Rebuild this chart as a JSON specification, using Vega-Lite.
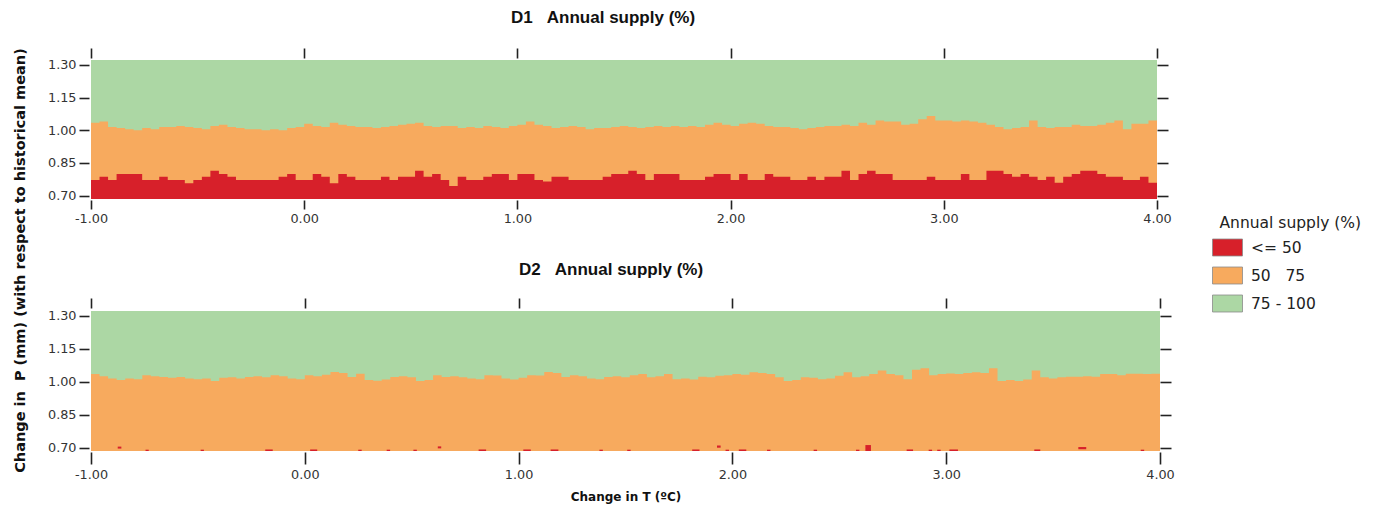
{
"$schema": "https://vega.github.io/schema/vega-lite/v6.json",
"background": "white",
"padding": {"left": 12, "top": 9, "right": 10, "bottom": 5},
"bounds": "flush",
"spacing": 112,
"config": {
  "locale": {"number": {"decimal": ".", "thousands": ",", "grouping": [3], "currency": ["$", ""], "minus": "-"}},
  "view": {"stroke": null},
  "font": "DejaVu Sans",
  "axis": {"grid": false, "domain": false, "labelFlush": false, "tickColor": "#222", "tickWidth": 1.6, "labelFont": "DejaVu Sans", "labelFontSize": 12.8, "labelColor": "#333", "titleColor": "#111", "titleFont": "DejaVu Sans"}
},
"datasets": {
"d1": [
{"x":-1,"r":0.772,"o":1.035},{"x":-0.96,"r":0.787,"o":1.04},{"x":-0.92,"r":0.772,"o":1.015},{"x":-0.88,"r":0.8,"o":1.01},{"x":-0.84,"r":0.8,"o":1.005},{"x":-0.8,"r":0.8,"o":1.0},{"x":-0.76,"r":0.772,"o":1.01},{"x":-0.72,"r":0.772,"o":1.005},{"x":-0.68,"r":0.787,"o":1.015},{"x":-0.64,"r":0.772,"o":1.015},{"x":-0.6,"r":0.772,"o":1.02},{"x":-0.56,"r":0.757,"o":1.015},{"x":-0.52,"r":0.772,"o":1.01},{"x":-0.48,"r":0.787,"o":1.005},{"x":-0.44,"r":0.815,"o":1.02},{"x":-0.4,"r":0.8,"o":1.025},{"x":-0.36,"r":0.787,"o":1.015},{"x":-0.32,"r":0.772,"o":1.01},{"x":-0.28,"r":0.772,"o":1.005},{"x":-0.24,"r":0.772,"o":1.005},{"x":-0.2,"r":0.772,"o":1.0},{"x":-0.16,"r":0.772,"o":1.005},{"x":-0.12,"r":0.787,"o":1.0},{"x":-0.08,"r":0.8,"o":1.01},{"x":-0.04,"r":0.772,"o":1.015},{"x":0,"r":0.772,"o":1.03},{"x":0.04,"r":0.8,"o":1.02},{"x":0.08,"r":0.787,"o":1.015},{"x":0.12,"r":0.757,"o":1.035},{"x":0.16,"r":0.8,"o":1.025},{"x":0.2,"r":0.787,"o":1.02},{"x":0.24,"r":0.772,"o":1.015},{"x":0.28,"r":0.772,"o":1.015},{"x":0.32,"r":0.772,"o":1.01},{"x":0.36,"r":0.787,"o":1.015},{"x":0.4,"r":0.772,"o":1.02},{"x":0.44,"r":0.787,"o":1.025},{"x":0.48,"r":0.787,"o":1.03},{"x":0.52,"r":0.815,"o":1.035},{"x":0.56,"r":0.787,"o":1.02},{"x":0.6,"r":0.8,"o":1.015},{"x":0.64,"r":0.772,"o":1.02},{"x":0.68,"r":0.745,"o":1.02},{"x":0.72,"r":0.787,"o":1.01},{"x":0.76,"r":0.772,"o":1.015},{"x":0.8,"r":0.772,"o":1.01},{"x":0.84,"r":0.787,"o":1.02},{"x":0.88,"r":0.8,"o":1.015},{"x":0.92,"r":0.8,"o":1.01},{"x":0.96,"r":0.772,"o":1.02},{"x":1,"r":0.8,"o":1.025},{"x":1.04,"r":0.8,"o":1.04},{"x":1.08,"r":0.772,"o":1.025},{"x":1.12,"r":0.765,"o":1.02},{"x":1.16,"r":0.787,"o":1.01},{"x":1.2,"r":0.787,"o":1.015},{"x":1.24,"r":0.772,"o":1.02},{"x":1.28,"r":0.772,"o":1.015},{"x":1.32,"r":0.772,"o":1.005},{"x":1.36,"r":0.772,"o":1.01},{"x":1.4,"r":0.787,"o":1.01},{"x":1.44,"r":0.8,"o":1.015},{"x":1.48,"r":0.8,"o":1.02},{"x":1.52,"r":0.815,"o":1.015},{"x":1.56,"r":0.8,"o":1.01},{"x":1.6,"r":0.772,"o":1.015},{"x":1.64,"r":0.8,"o":1.02},{"x":1.68,"r":0.8,"o":1.015},{"x":1.72,"r":0.8,"o":1.02},{"x":1.76,"r":0.772,"o":1.015},{"x":1.8,"r":0.772,"o":1.02},{"x":1.84,"r":0.772,"o":1.015},{"x":1.88,"r":0.787,"o":1.025},{"x":1.92,"r":0.8,"o":1.035},{"x":1.96,"r":0.8,"o":1.025},{"x":2,"r":0.772,"o":1.02},{"x":2.04,"r":0.8,"o":1.03},{"x":2.08,"r":0.772,"o":1.035},{"x":2.12,"r":0.772,"o":1.03},{"x":2.16,"r":0.8,"o":1.02},{"x":2.2,"r":0.787,"o":1.015},{"x":2.24,"r":0.787,"o":1.015},{"x":2.28,"r":0.772,"o":1.01},{"x":2.32,"r":0.772,"o":1.005},{"x":2.36,"r":0.787,"o":1.01},{"x":2.4,"r":0.772,"o":1.015},{"x":2.44,"r":0.787,"o":1.02},{"x":2.48,"r":0.787,"o":1.02},{"x":2.52,"r":0.815,"o":1.025},{"x":2.56,"r":0.772,"o":1.02},{"x":2.6,"r":0.8,"o":1.035},{"x":2.64,"r":0.815,"o":1.025},{"x":2.68,"r":0.8,"o":1.045},{"x":2.72,"r":0.8,"o":1.04},{"x":2.76,"r":0.772,"o":1.04},{"x":2.8,"r":0.772,"o":1.025},{"x":2.84,"r":0.772,"o":1.03},{"x":2.88,"r":0.772,"o":1.05},{"x":2.92,"r":0.787,"o":1.065},{"x":2.96,"r":0.772,"o":1.045},{"x":3,"r":0.772,"o":1.045},{"x":3.04,"r":0.772,"o":1.04},{"x":3.08,"r":0.8,"o":1.045},{"x":3.12,"r":0.772,"o":1.04},{"x":3.16,"r":0.772,"o":1.035},{"x":3.2,"r":0.815,"o":1.025},{"x":3.24,"r":0.815,"o":1.015},{"x":3.28,"r":0.8,"o":1.005},{"x":3.32,"r":0.787,"o":1.01},{"x":3.36,"r":0.8,"o":1.015},{"x":3.4,"r":0.787,"o":1.045},{"x":3.44,"r":0.772,"o":1.015},{"x":3.48,"r":0.787,"o":1.01},{"x":3.52,"r":0.76,"o":1.015},{"x":3.56,"r":0.787,"o":1.015},{"x":3.6,"r":0.8,"o":1.025},{"x":3.64,"r":0.815,"o":1.02},{"x":3.68,"r":0.815,"o":1.02},{"x":3.72,"r":0.8,"o":1.025},{"x":3.76,"r":0.787,"o":1.035},{"x":3.8,"r":0.787,"o":1.045},{"x":3.84,"r":0.772,"o":1.005},{"x":3.88,"r":0.772,"o":1.03},{"x":3.92,"r":0.787,"o":1.03},{"x":3.96,"r":0.76,"o":1.045},{"x":4,"r":0.772,"o":1.04}
],
"d2": [
{"x":-1,"o":1.035},{"x":-0.96,"o":1.025},{"x":-0.92,"o":1.015},{"x":-0.88,"o":1.008},{"x":-0.84,"o":1.015},{"x":-0.8,"o":1.012},{"x":-0.76,"o":1.03},{"x":-0.72,"o":1.025},{"x":-0.68,"o":1.022},{"x":-0.64,"o":1.018},{"x":-0.6,"o":1.022},{"x":-0.56,"o":1.015},{"x":-0.52,"o":1.012},{"x":-0.48,"o":1.015},{"x":-0.44,"o":1.003},{"x":-0.4,"o":1.018},{"x":-0.36,"o":1.02},{"x":-0.32,"o":1.015},{"x":-0.28,"o":1.022},{"x":-0.24,"o":1.025},{"x":-0.2,"o":1.02},{"x":-0.16,"o":1.03},{"x":-0.12,"o":1.025},{"x":-0.08,"o":1.015},{"x":-0.04,"o":1.012},{"x":0,"o":1.03},{"x":0.04,"o":1.025},{"x":0.08,"o":1.032},{"x":0.12,"o":1.045},{"x":0.16,"o":1.04},{"x":0.2,"o":1.022},{"x":0.24,"o":1.037},{"x":0.28,"o":1.008},{"x":0.32,"o":1.005},{"x":0.36,"o":1.01},{"x":0.4,"o":1.022},{"x":0.44,"o":1.025},{"x":0.48,"o":1.02},{"x":0.52,"o":1.003},{"x":0.56,"o":1.008},{"x":0.6,"o":1.03},{"x":0.64,"o":1.022},{"x":0.68,"o":1.025},{"x":0.72,"o":1.02},{"x":0.76,"o":1.015},{"x":0.8,"o":1.012},{"x":0.84,"o":1.03},{"x":0.88,"o":1.028},{"x":0.92,"o":1.015},{"x":0.96,"o":1.01},{"x":1,"o":1.018},{"x":1.04,"o":1.03},{"x":1.08,"o":1.028},{"x":1.12,"o":1.045},{"x":1.16,"o":1.04},{"x":1.2,"o":1.022},{"x":1.24,"o":1.03},{"x":1.28,"o":1.025},{"x":1.32,"o":1.015},{"x":1.36,"o":1.012},{"x":1.4,"o":1.022},{"x":1.44,"o":1.025},{"x":1.48,"o":1.02},{"x":1.52,"o":1.03},{"x":1.56,"o":1.035},{"x":1.6,"o":1.02},{"x":1.64,"o":1.025},{"x":1.68,"o":1.035},{"x":1.72,"o":1.012},{"x":1.76,"o":1.015},{"x":1.8,"o":1.01},{"x":1.84,"o":1.023},{"x":1.88,"o":1.02},{"x":1.92,"o":1.027},{"x":1.96,"o":1.03},{"x":2,"o":1.035},{"x":2.04,"o":1.032},{"x":2.08,"o":1.043},{"x":2.12,"o":1.04},{"x":2.16,"o":1.035},{"x":2.2,"o":1.02},{"x":2.24,"o":1.004},{"x":2.28,"o":1.008},{"x":2.32,"o":1.02},{"x":2.36,"o":1.018},{"x":2.4,"o":1.012},{"x":2.44,"o":1.015},{"x":2.48,"o":1.027},{"x":2.52,"o":1.043},{"x":2.56,"o":1.02},{"x":2.6,"o":1.025},{"x":2.64,"o":1.035},{"x":2.68,"o":1.051},{"x":2.72,"o":1.035},{"x":2.76,"o":1.03},{"x":2.8,"o":1.012},{"x":2.84,"o":1.055},{"x":2.88,"o":1.062},{"x":2.92,"o":1.03},{"x":2.96,"o":1.035},{"x":3,"o":1.038},{"x":3.04,"o":1.035},{"x":3.08,"o":1.04},{"x":3.12,"o":1.043},{"x":3.16,"o":1.04},{"x":3.2,"o":1.062},{"x":3.24,"o":1.004},{"x":3.28,"o":1.008},{"x":3.32,"o":1.004},{"x":3.36,"o":1.01},{"x":3.4,"o":1.051},{"x":3.44,"o":1.02},{"x":3.48,"o":1.015},{"x":3.52,"o":1.02},{"x":3.56,"o":1.023},{"x":3.6,"o":1.023},{"x":3.64,"o":1.025},{"x":3.68,"o":1.023},{"x":3.72,"o":1.035},{"x":3.76,"o":1.035},{"x":3.8,"o":1.03},{"x":3.84,"o":1.037},{"x":3.88,"o":1.037},{"x":3.92,"o":1.035},{"x":3.96,"o":1.037},{"x":4,"o":1.037}
],
"specks": [
{"x":-0.875,"x2":-0.858,"lo":0.696,"hi":0.705},{"x":-0.745,"x2":-0.73,"lo":0.685,"hi":0.691},{"x":-0.487,"x2":-0.472,"lo":0.685,"hi":0.691},{"x":-0.185,"x2":-0.15,"lo":0.685,"hi":0.692},{"x":0.025,"x2":0.058,"lo":0.685,"hi":0.692},{"x":0.25,"x2":0.266,"lo":0.685,"hi":0.691},{"x":0.383,"x2":0.399,"lo":0.685,"hi":0.691},{"x":0.508,"x2":0.524,"lo":0.685,"hi":0.691},{"x":0.622,"x2":0.638,"lo":0.697,"hi":0.706},{"x":0.813,"x2":0.848,"lo":0.685,"hi":0.692},{"x":1.022,"x2":1.057,"lo":0.685,"hi":0.692},{"x":1.15,"x2":1.186,"lo":0.685,"hi":0.692},{"x":1.378,"x2":1.394,"lo":0.685,"hi":0.691},{"x":1.508,"x2":1.524,"lo":0.685,"hi":0.691},{"x":1.812,"x2":1.846,"lo":0.685,"hi":0.692},{"x":1.928,"x2":1.945,"lo":0.7,"hi":0.71},{"x":1.968,"x2":1.984,"lo":0.685,"hi":0.691},{"x":2.03,"x2":2.065,"lo":0.685,"hi":0.692},{"x":2.162,"x2":2.178,"lo":0.685,"hi":0.691},{"x":2.38,"x2":2.396,"lo":0.685,"hi":0.691},{"x":2.578,"x2":2.594,"lo":0.685,"hi":0.691},{"x":2.622,"x2":2.648,"lo":0.685,"hi":0.712},{"x":2.815,"x2":2.845,"lo":0.685,"hi":0.692},{"x":2.918,"x2":2.934,"lo":0.685,"hi":0.691},{"x":2.958,"x2":2.974,"lo":0.685,"hi":0.691},{"x":3.015,"x2":3.055,"lo":0.685,"hi":0.692},{"x":3.412,"x2":3.44,"lo":0.685,"hi":0.692},{"x":3.618,"x2":3.655,"lo":0.693,"hi":0.703},{"x":3.91,"x2":3.926,"lo":0.685,"hi":0.691}
]
},
"vconcat": [
{
  "width": 1066, "height": 139,
  "title": {"text": "D1\u00a0\u00a0\u00a0Annual supply (%)", "font": "Liberation Sans", "fontSize": 17, "fontWeight": "bold", "color": "#111", "anchor": "middle", "dx": -21, "offset": 20},
  "data": {"name": "d1"},
  "resolve": {"axis": {"x": "independent", "y": "independent"}},
  "layer": [
    {"mark": {"type": "area", "interpolate": "step-after", "orient": "vertical", "opacity": 1},
     "encoding": {
       "x": {"field": "x", "type": "quantitative", "scale": {"domain": [-1, 4], "nice": false, "zero": false},
             "axis": {"orient": "bottom", "values": [-1, 0, 1, 2, 3, 4], "format": ".2f", "tickSize": 9, "offset": 1, "labelPadding": 3, "title": null}},
       "y": {"datum": 0.685, "type": "quantitative", "scale": {"domain": [0.685, 1.322], "nice": false, "zero": false},
             "axis": {"orient": "left", "values": [0.7, 0.85, 1.0, 1.15, 1.3], "format": ".2f", "tickSize": 10, "offset": 2, "labelPadding": 3,
                      "title": "Change in\u00a0\u00a0P (mm) (with respect to historical mean)", "titleFontSize": 14.5, "titleFontWeight": "bold", "titleY": 200, "titlePadding": 20}},
       "y2": {"datum": 1.322},
       "color": {"datum": "75 - 100", "type": "nominal",
                 "scale": {"domain": ["<= 50", "50\u00a0\u00a0\u00a075", "75 - 100"], "range": ["#d7202a", "#f7aa5e", "#acd7a4"]},
                 "legend": {"orient": "none", "legendX": 1128.5, "legendY": 156, "title": "Annual supply (%)", "titleFont": "DejaVu Sans", "titleFontSize": 15.5, "titleFontWeight": "normal", "titleColor": "#222", "titlePadding": 8,
                            "labelFont": "DejaVu Sans", "labelFontSize": 15.5, "labelColor": "#222", "labelOffset": 15.5,
                            "symbolType": "M-2,-1.133H2V1.133H-2Z", "symbolSize": 225, "symbolStrokeColor": "#8a8a8a", "symbolStrokeWidth": 0.8, "symbolOpacity": 1, "rowPadding": 6}}
     }},
    {"mark": {"type": "area", "interpolate": "step-after", "orient": "vertical", "opacity": 1},
     "encoding": {
       "x": {"field": "x", "type": "quantitative", "axis": {"orient": "top", "values": [-1, 0, 1, 2, 3, 4], "labels": false, "tickSize": 10, "offset": 2, "title": null}},
       "y": {"field": "o", "type": "quantitative", "axis": {"orient": "right", "values": [0.7, 0.85, 1.0, 1.15, 1.3], "labels": false, "tickSize": 11, "offset": 0, "title": null}},
       "y2": {"datum": 0.685},
       "color": {"datum": "50\u00a0\u00a0\u00a075", "type": "nominal"}
     }},
    {"mark": {"type": "area", "interpolate": "step-after", "orient": "vertical", "opacity": 1},
     "encoding": {
       "x": {"field": "x", "type": "quantitative", "axis": null},
       "y": {"field": "r", "type": "quantitative", "axis": null},
       "y2": {"datum": 0.685},
       "color": {"datum": "<= 50", "type": "nominal"}
     }}
  ]
},
{
  "width": 1069, "height": 140,
  "title": {"text": "D2\u00a0\u00a0\u00a0Annual supply (%)", "font": "Liberation Sans", "fontSize": 17, "fontWeight": "bold", "color": "#111", "anchor": "middle", "dx": -14.5, "offset": 18},
  "data": {"name": "d2"},
  "resolve": {"axis": {"x": "independent", "y": "independent"}},
  "layer": [
    {"mark": {"type": "area", "interpolate": "step-after", "orient": "vertical", "opacity": 1},
     "encoding": {
       "x": {"field": "x", "type": "quantitative", "scale": {"domain": [-1, 4], "nice": false, "zero": false},
             "axis": {"orient": "bottom", "values": [-1, 0, 1, 2, 3, 4], "format": ".2f", "tickSize": 12, "offset": 1, "labelPadding": 4,
                      "title": "Change in T (ºC)", "titleFontSize": 12, "titleFontWeight": "bold", "titlePadding": 11}},
       "y": {"datum": 0.685, "type": "quantitative", "scale": {"domain": [0.685, 1.322], "nice": false, "zero": false},
             "axis": {"orient": "left", "values": [0.7, 0.85, 1.0, 1.15, 1.3], "format": ".2f", "tickSize": 10, "offset": 2, "labelPadding": 3, "title": null}},
       "y2": {"datum": 1.322},
       "color": {"datum": "75 - 100", "type": "nominal"}
     }},
    {"mark": {"type": "area", "interpolate": "step-after", "orient": "vertical", "opacity": 1},
     "encoding": {
       "x": {"field": "x", "type": "quantitative", "axis": {"orient": "top", "values": [-1, 0, 1, 2, 3, 4], "labels": false, "tickSize": 10, "offset": 3, "title": null}},
       "y": {"field": "o", "type": "quantitative", "axis": {"orient": "right", "values": [0.7, 0.85, 1.0, 1.15, 1.3], "labels": false, "tickSize": 11, "offset": 0, "title": null}},
       "y2": {"datum": 0.685},
       "color": {"datum": "50\u00a0\u00a0\u00a075", "type": "nominal"}
     }},
    {"data": {"name": "specks"},
     "mark": {"type": "rect", "opacity": 1},
     "encoding": {
       "x": {"field": "x", "type": "quantitative", "axis": null},
       "x2": {"field": "x2"},
       "y": {"field": "lo", "type": "quantitative", "axis": null},
       "y2": {"field": "hi"},
       "color": {"datum": "<= 50", "type": "nominal"}
     }}
  ]
}
]
}
